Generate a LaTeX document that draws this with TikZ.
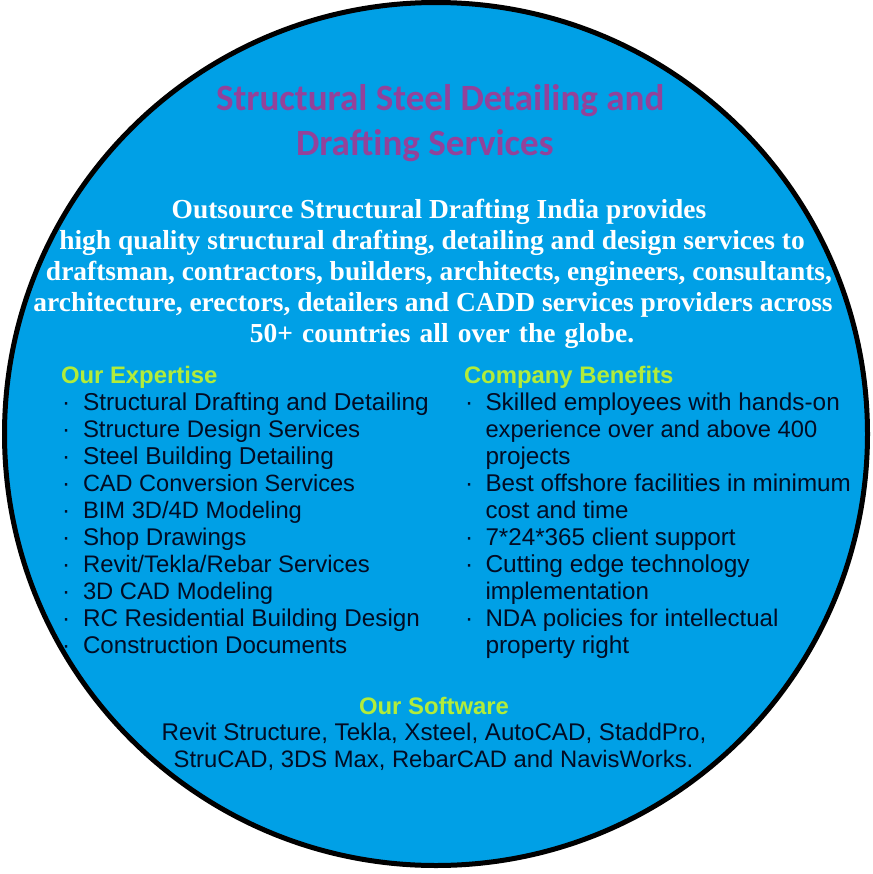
\documentclass[tikz,border=0pt]{standalone}
\usepackage{fontspec}
\setmainfont{Liberation Sans}
\newfontfamily\serifbody{Liberation Serif}
\newfontfamily\titlefont{Carlito}
\definecolor{disc}{HTML}{00A0E6}
\definecolor{titlec}{HTML}{93429A}
\definecolor{headc}{HTML}{B2EC3A}
\definecolor{listc}{HTML}{020C24}
\newcommand{\sized}[1]{\fontsize{#1}{22}\selectfont}
\tikzset{
  x=0.75pt,y=-0.75pt,
  every node/.style={inner sep=0pt,outer sep=0pt},
  titletext/.style={anchor=base west,font=\titlefont\bfseries\fontsize{27.8}{32}\selectfont,text=titlec},
  bodytext/.style={anchor=base,font=\serifbody\bfseries\fontsize{20.6}{24}\selectfont,text=white},
  headtext/.style={anchor=base west,font=\bfseries\fontsize{17.9}{21}\selectfont,text=headc},
  listtext/.style={anchor=base west,text=listc},
  softtext/.style={anchor=base,text=listc},
  dot/.style={anchor=base west,font=\fontsize{18.3}{22}\selectfont,text=listc}
}
\begin{document}
\begin{tikzpicture}
\useasboundingbox (0,0) rectangle (872,874);
\fill[white] (0,0) rectangle (872,874);
\draw[fill=disc,draw=black,line width=3.75pt] (436,434) circle[radius=431.5];
\node[titletext] (t1) at (216,110) {Structural Steel Detailing and};
\node[titletext] (t2) at (296,155) {Drafting Services};
\node[bodytext] (b1) at (439,218) {Outsource Structural Drafting India provides};
\node[bodytext] (b2) at (432,249) {high quality structural drafting, detailing and design services to};
\node[bodytext] (b3) at (439,280) {draftsman, contractors, builders, architects, engineers, consultants,};
\node[bodytext] (b4) at (433,311) {architecture, erectors, detailers and CADD services providers across};
\node[bodytext] (b5) at (442,342) {\spaceskip=6.9pt 50+ countries all over the globe.};
\node[headtext] (h1) at (61,383) {Our Expertise};
\foreach \yy/\ss/\tt [count=\i] in {
  410/18.3/{Structural Drafting and Detailing},
  437/17.98/{Structure Design Services},
  464/18.3/{Steel Building Detailing},
  491/17.65/{CAD Conversion Services},
  518/17.8/{BIM 3D/4D Modeling},
  545/18.08/{Shop Drawings},
  572/17.92/{Revit/Tekla/Rebar Services},
  599/17.83/{3D CAD Modeling},
  626/18.19/{RC Residential Building Design},
  653/18.1/{Construction Documents}}{
  \node[dot] (ld\i) at (62,\yy) {·};
  \node[listtext] (l\i) at (83,\yy) {\sized{\ss}\tt};
}
\node[headtext] (h2) at (464,383) {Company Benefits};
\foreach \yy/\ss/\tt [count=\i] in {
  410/18.25/{Skilled employees with hands-on},
  437/17.76/{experience over and above 400},
  464/18.2/{projects},
  491/18.15/{Best offshore facilities in minimum},
  518/18.05/{cost and time},
  545/18.15/{7*24*365 client support},
  572/18.37/{Cutting edge technology},
  599/18.08/{implementation},
  626/18.05/{NDA policies for intellectual},
  653/18.3/{property right}}{
  \node[listtext] (r\i) at (485.5,\yy) {\sized{\ss}\tt};
}
\foreach \yy [count=\i] in {410,491,545,572,626}{
  \node[dot] (rd\i) at (465,\yy) {·};
}
\node[headtext,anchor=base] (h3) at (434,714) {Our Software};
\node[softtext] (s1) at (434,740) {\sized{18.1}Revit Structure, Tekla, Xsteel, AutoCAD, StaddPro,};
\node[softtext] (s2) at (433.5,767) {\sized{17.86}StruCAD, 3DS Max, RebarCAD and NavisWorks.};
\end{tikzpicture}
\end{document}
